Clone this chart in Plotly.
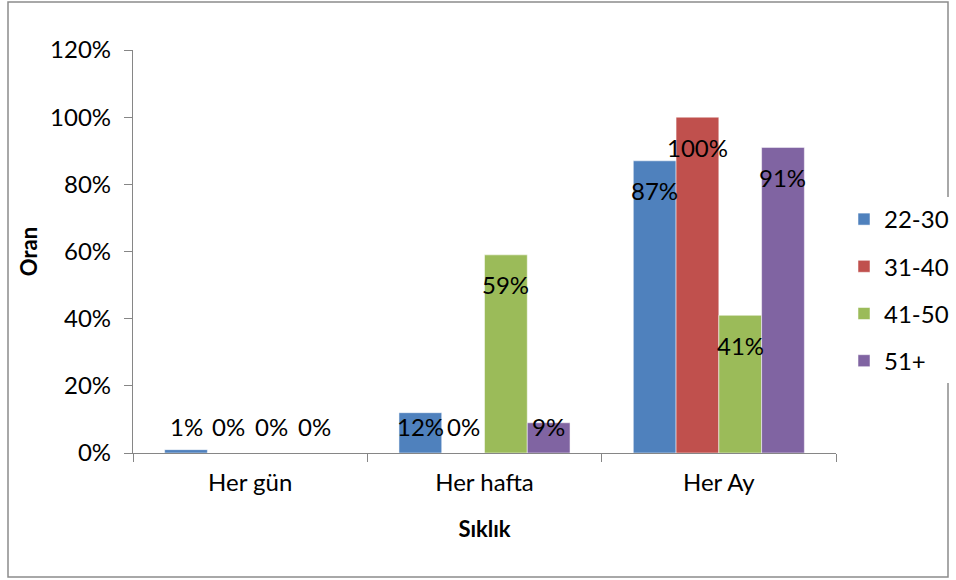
import plotly.graph_objects as go

categories = ["Her gün", "Her hafta", "Her Ay"]
series_names = ["22-30", "31-40", "41-50", "51+"]
v_22_30 = [1, 12, 87]
v_31_40 = [0, 0, 100]
v_41_50 = [0, 59, 41]
v_51p = [0, 9, 91]
series_values = [v_22_30, v_31_40, v_41_50, v_51p]
colors = ["#4F81BD", "#C0504D", "#9BBB59", "#8064A2"]
y_tickvals = [0, 20, 40, 60, 80, 100, 120]
y_ticktext = ["0%", "20%", "40%", "60%", "80%", "100%", "120%"]

W, H = 956, 580
ML, MR, MT, MB = 133, 120, 50, 127
PW, PH = W - ML - MR, H - MT - MB
BARGAP = 0.27
FONT = "Lato"
FS = 24

fig = go.Figure()
for name, vals, col in zip(series_names, series_values, colors):
    fig.add_trace(go.Bar(
        x=categories, y=vals, name=name, legendgroup=name,
        marker=dict(color=col, line=dict(color="rgba(255,255,255,0.5)", width=1)),
    ))

# data labels (Excel-style inside end, clamped near the base)
bar_w = PW / len(categories) * (1 - BARGAP) / len(series_names)
ann = []
for j, vals in enumerate(series_values):
    for cat, v in zip(categories, vals):
        ann.append(dict(
            x=cat, y=max(v - 8.9, 8.0), xref="x", yref="y",
            text=f"{v}%", showarrow=False,
            xshift=(j - (len(series_names) - 1) / 2) * bar_w,
            font=dict(family=FONT, size=FS, color="black"),
            yanchor="middle", xanchor="center",
        ))

fig.update_layout(
    width=W, height=H,
    margin=dict(l=ML, r=MR, t=MT, b=MB, autoexpand=False),
    paper_bgcolor="white", plot_bgcolor="white",
    barmode="group", bargap=BARGAP, bargroupgap=0,
    font=dict(family=FONT, size=FS, color="black"),
    annotations=ann,
    legend=dict(
        xref="container", yref="container",
        x=844 / W, y=(H - 290) / H, xanchor="left", yanchor="middle",
        font=dict(family=FONT, size=FS), traceorder="grouped",
        tracegroupgap=13, itemwidth=30,
    ),
    shapes=[dict(
        type="rect", xref="paper", yref="paper",
        x0=(8 - ML) / PW, x1=(948 - ML) / PW,
        y0=(H - MB - 577) / PH, y1=(H - MB - 2) / PH,
        line=dict(color="#8C8C8C", width=1.5), fillcolor="rgba(0,0,0,0)",
        layer="below",
    )],
)
fig.update_xaxes(
    type="category", tickson="boundaries", ticks="outside", ticklen=8,
    tickcolor="#868686", showline=True, linecolor="#868686", linewidth=1.3,
    showgrid=False, range=[-0.5, 2.5],
    title=dict(text="<b>Sıklık</b>", font=dict(family=FONT, size=22), standoff=26),
    tickfont=dict(family=FONT, size=FS), ticklabelstandoff=8,
)
fig.update_yaxes(
    range=[0, 120], tickvals=y_tickvals, ticktext=y_ticktext,
    ticks="outside", ticklen=8, tickcolor="#868686",
    showline=True, linecolor="#868686", linewidth=1.3, showgrid=False, zeroline=False,
    title=dict(text="<b>Oran</b>", font=dict(family=FONT, size=22), standoff=6),
    tickfont=dict(family=FONT, size=FS), ticklabelstandoff=8,
)

fig.write_html("out.html")
